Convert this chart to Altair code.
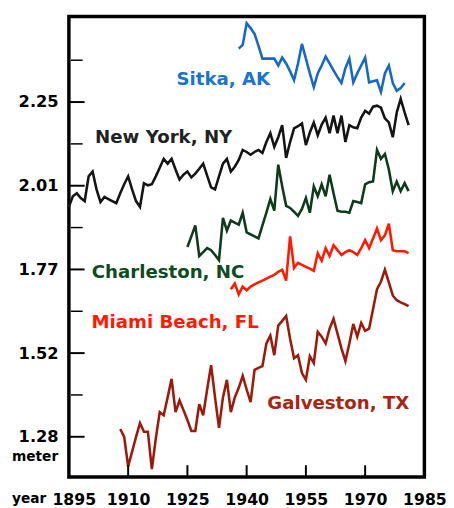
import altair as alt
import pandas as pd

# ---- data (annual mean sea level, meters) ----
stations = ["Sitka, AK", "New York, NY", "Charleston, NC", "Miami Beach, FL", "Galveston, TX"]
start_years = [1938, 1895, 1925, 1936, 1908]

sitka = [2.411, 2.422, 2.485, 2.471, 2.454, 2.419, 2.382, 2.382, 2.382, 2.382,
         2.362, 2.385, 2.368, 2.345, 2.319, 2.368, 2.425, 2.382, 2.339, 2.299,
         2.339, 2.362, 2.388, 2.368, 2.348, 2.328, 2.311, 2.354, 2.382, 2.313,
         2.339, 2.362, 2.385, 2.313, 2.316, 2.319, 2.285, 2.339, 2.362, 2.311,
         2.288, 2.296, 2.311]

new_york = [1.950, 1.981, 1.990, 1.976, 1.967, 2.039, 2.053, 2.001, 1.964, 1.979,
            1.973, 1.967, 1.961, 1.990, 2.016, 2.039, 2.001, 1.967, 1.950, 2.019,
            2.013, 2.016, 2.039, 2.064, 2.090, 2.076, 2.090, 2.059, 2.030, 2.044,
            2.053, 2.036, 2.047, 2.061, 2.076, 2.041, 2.007, 2.001, 2.039, 2.076,
            2.090, 2.053, 2.067, 2.087, 2.116, 2.110, 2.102, 2.110, 2.116, 2.107,
            2.139, 2.165, 2.125, 2.153, 2.188, 2.093, 2.139, 2.179, 2.185, 2.193,
            2.130, 2.167, 2.196, 2.159, 2.190, 2.210, 2.165, 2.216, 2.165, 2.216,
            2.139, 2.188, 2.182, 2.179, 2.210, 2.230, 2.222, 2.242, 2.245, 2.239,
            2.208, 2.196, 2.153, 2.225, 2.265, 2.225, 2.188]

charleston = [1.833, 1.864, 1.896, 1.807, 1.818, 1.830, 1.824, 1.810, 1.795, 1.918,
              1.881, 1.910, 1.904, 1.898, 1.933, 1.876, 1.870, 1.864, 1.858, 1.896,
              1.933, 1.973, 1.939, 2.073, 2.010, 1.953, 1.947, 1.936, 1.924, 1.944,
              1.976, 1.933, 2.010, 1.981, 2.016, 1.981, 2.044, 1.990, 1.939, 1.936,
              1.936, 1.933, 1.967, 1.964, 1.961, 2.016, 2.022, 2.024, 2.116, 2.090,
              2.104, 2.059, 1.996, 2.024, 1.996, 2.019, 1.996]

miami = [1.710, 1.727, 1.695, 1.718, 1.707, 1.718, 1.724, 1.730, 1.735, 1.741,
         1.747, 1.752, 1.761, 1.767, 1.735, 1.864, 1.772, 1.787, 1.781, 1.775,
         1.770, 1.764, 1.815, 1.793, 1.830, 1.807, 1.838, 1.824, 1.810, 1.818,
         1.824, 1.818, 1.810, 1.830, 1.853, 1.830, 1.858, 1.887, 1.853, 1.867,
         1.901, 1.824, 1.821, 1.821, 1.821, 1.815]

galveston = [1.303, 1.280, 1.194, 1.237, 1.280, 1.320, 1.295, 1.295, 1.186, 1.275,
             1.352, 1.343, 1.395, 1.449, 1.352, 1.386, 1.358, 1.329, 1.297, 1.297,
             1.375, 1.343, 1.418, 1.489, 1.395, 1.306, 1.395, 1.446, 1.352, 1.395,
             1.423, 1.458, 1.418, 1.381, 1.475, 1.481, 1.486, 1.552, 1.575, 1.518,
             1.604, 1.618, 1.632, 1.566, 1.509, 1.518, 1.466, 1.446, 1.515, 1.495,
             1.586, 1.572, 1.552, 1.595, 1.624, 1.581, 1.538, 1.501, 1.552, 1.609,
             1.572, 1.612, 1.589, 1.595, 1.652, 1.710, 1.732, 1.767, 1.730, 1.692,
             1.678, 1.672, 1.667, 1.661]

series = [sitka, new_york, charleston, miami, galveston]
line_colors = ["#1468c8", "#141414", "#0c3a1a", "#ff1a00", "#9c1a0a"]
label_colors = ["#1a72d2", "#222222", "#0e4a22", "#ff1a00", "#a8250f"]
label_year = [1934.1, 1919.0, 1920.1, 1921.9, 1963.2]
label_level = [2.322, 2.153, 1.761, 1.615, 1.378]

tick_m = [1.2802, 1.5240, 1.7678, 2.0117, 2.2555]
tick_labels = ["1.28", "1.52", "1.77", "2.01", "2.25"]
minor_m = [1.4021, 1.6459, 1.8898, 2.1336, 2.3774]
year_labels = [1895, 1910, 1925, 1940, 1955, 1970, 1985]
year_ticks = [1910, 1925, 1940, 1955, 1970]

W, H = 362, 469
FONT = "DejaVu Sans"

rows = []
for name, y0, vals in zip(stations, start_years, series):
    for i, v in enumerate(vals):
        rows.append({"station": name, "year": y0 + i, "level": v})
df = pd.DataFrame(rows)

xscale = alt.Scale(domain=[1895, 1985], nice=False, zero=False)
yscale = alt.Scale(domain=[1.163, 2.505], nice=False, zero=False)

label_expr = "[" + ",".join("'%s'" % t for t in tick_labels) + "][indexof([" + \
    ",".join(str(v) for v in tick_m) + "], datum.value)]"

X = alt.X("year:Q", scale=xscale, title=None,
          axis=alt.Axis(values=year_labels, format="d", ticks=False, domain=False,
                        grid=False, labelPadding=15, labelFontSize=16, labelFont=FONT,
                        labelFontWeight="bold", labelColor="black", title=None,
                        labelFlush=False,
                        labelOffset={"condition": {"test": "datum.value == 1895", "value": 5},
                                     "value": 0}))
Y = alt.Y("level:Q", scale=yscale, title=None,
          axis=alt.Axis(values=tick_m, labelExpr=label_expr, ticks=False, domain=False,
                        grid=False, labelPadding=11, labelFontSize=16.5, labelFont=FONT,
                        labelFontWeight="bold", labelColor="black", title=None,
                        labelFlush=False))

lines = alt.Chart(df).mark_line(strokeWidth=2.6, strokeJoin="miter").encode(
    x=X, y=Y,
    color=alt.Color("station:N", scale=alt.Scale(domain=stations, range=line_colors), legend=None),
    detail="station:N",
)

major = alt.Chart(pd.DataFrame({"level": tick_m})).mark_rule(color="black", strokeWidth=2).encode(
    y=Y, x=alt.value(0), x2=alt.value(16))
minor = alt.Chart(pd.DataFrame({"level": minor_m})).mark_rule(color="black", strokeWidth=1.5).encode(
    y=Y, x=alt.value(2), x2=alt.value(14))
xt = alt.Chart(pd.DataFrame({"year": year_ticks})).mark_rule(color="black", strokeWidth=2).encode(
    x=X, y=alt.value(H), y2=alt.value(H - 12))

lab_df = pd.DataFrame({"station": stations, "year": label_year, "level": label_level,
                       "col": label_colors})
labels = alt.Chart(lab_df).mark_text(font=FONT, fontWeight="bold", fontSize=18.5,
                                     align="center", baseline="middle").encode(
    x=X, y=Y,
    text="station:N",
    color=alt.Color("col:N", scale=None),
)

meter = alt.Chart(pd.DataFrame({"t": ["meter"]})).mark_text(
    font=FONT, fontWeight="bold", fontSize=14, align="left", baseline="middle", color="black"
).encode(text="t:N", x=alt.value(-58), y=alt.value(449))
year_t = alt.Chart(pd.DataFrame({"t": ["year"]})).mark_text(
    font=FONT, fontWeight="bold", fontSize=14, align="left", baseline="middle", color="black"
).encode(text="t:N", x=alt.value(-58), y=alt.value(491))

chart = alt.layer(lines, major, minor, xt, labels, meter, year_t).properties(
    width=W, height=H,
    background="white",
    autosize=alt.AutoSizeParams(type="none"),
    padding={"left": 62, "top": 4, "right": 22, "bottom": 28},
).configure_view(stroke="black", strokeWidth=3.5)

chart.save("out.html", embed_options={"renderer": "svg", "actions": False})
